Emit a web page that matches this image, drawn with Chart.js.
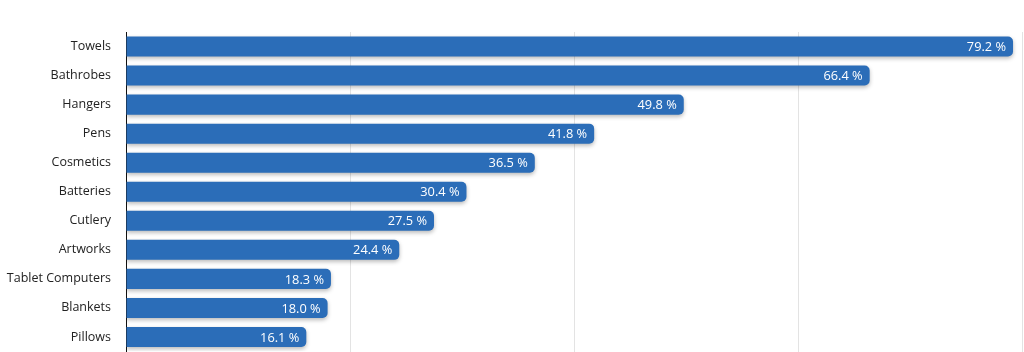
<!DOCTYPE html>
<html>
<head>
<meta charset="utf-8">
<script src="https://cdn.jsdelivr.net/npm/chart.js@4"></script>
<style>
  html, body { margin: 0; padding: 0; background: #fff; }
  #frame { width: 1024px; height: 352px; overflow: hidden; }
  #wrap { width: 1024px; height: 374px; position: relative; }
</style>
</head>
<body>
<div id="frame"><div id="wrap"><canvas id="itemsChart"></canvas></div></div>
<script>
const itemLabels = [
  "Towels",
  "Bathrobes",
  "Hangers",
  "Pens",
  "Cosmetics",
  "Batteries",
  "Cutlery",
  "Artworks",
  "Tablet Computers",
  "Blankets",
  "Pillows",
];
const itemShares = [79.2, 66.4, 49.8, 41.8, 36.5, 30.4, 27.5, 24.4, 18.3, 18.0, 16.1];
const axisTicks = [0, 20, 40, 60, 80];

const fontFamily = "'Open Sans', 'Liberation Sans', sans-serif";

// soft shadow under the bars
const barShadow = {
  id: "barShadow",
  beforeDatasetDraw(chart) {
    const ctx = chart.ctx;
    ctx.save();
    ctx.shadowColor = "rgba(0,0,0,0.28)";
    ctx.shadowBlur = 4;
    ctx.shadowOffsetX = 0;
    ctx.shadowOffsetY = 2;
  },
  afterDatasetDraw(chart) {
    chart.ctx.restore();
  },
};

// value text inside the end of each bar
const valueLabels = {
  id: "valueLabels",
  afterDatasetsDraw(chart) {
    const ctx = chart.ctx;
    const meta = chart.getDatasetMeta(0);
    ctx.save();
    ctx.fillStyle = "#ffffff";
    ctx.font = "12.8px " + fontFamily;
    ctx.textAlign = "right";
    ctx.textBaseline = "middle";
    meta.data.forEach((bar, i) => {
      const v = chart.data.datasets[0].data[i];
      ctx.fillText(v.toFixed(1) + " %", bar.x - 7, bar.y + 1);
    });
    ctx.restore();
  },
};

const ctx = document.getElementById("itemsChart").getContext("2d");

new Chart(ctx, {
  type: "bar",
  data: {
    labels: itemLabels,
    datasets: [
      {
        data: itemShares,
        backgroundColor: "#2b6db8",
        borderWidth: 0,
        borderRadius: { topRight: 5, bottomRight: 5 },
        borderSkipped: "start",
        categoryPercentage: 1,
        barPercentage: 0.69,
      },
    ],
  },
  options: {
    indexAxis: "y",
    responsive: true,
    maintainAspectRatio: false,
    animation: false,
    // the reference is cut off at the bottom, so the canvas runs past the frame
    layout: { padding: { top: 32, right: 2, bottom: 0, left: 0 } },
    plugins: {
      legend: { display: false },
      tooltip: { enabled: false },
    },
    scales: {
      x: {
        min: 0,
        max: 80,
        afterBuildTicks(axis) {
          axis.ticks = axisTicks.map((v) => ({ value: v }));
        },
        afterFit(axis) {
          axis.height = 0;
        },
        ticks: { display: false },
        border: { display: false },
        grid: { color: "#e3e3e3", lineWidth: 1, drawTicks: false },
      },
      y: {
        afterFit(axis) {
          axis.width = 126;
        },
        grid: { display: false, drawTicks: false },
        border: { display: true, color: "#111111", width: 1 },
        ticks: {
          color: "#222222",
          padding: 15,
          font: { family: fontFamily, size: 12.5 },
        },
      },
    },
  },
  plugins: [barShadow, valueLabels],
});
</script>
</body>
</html>
